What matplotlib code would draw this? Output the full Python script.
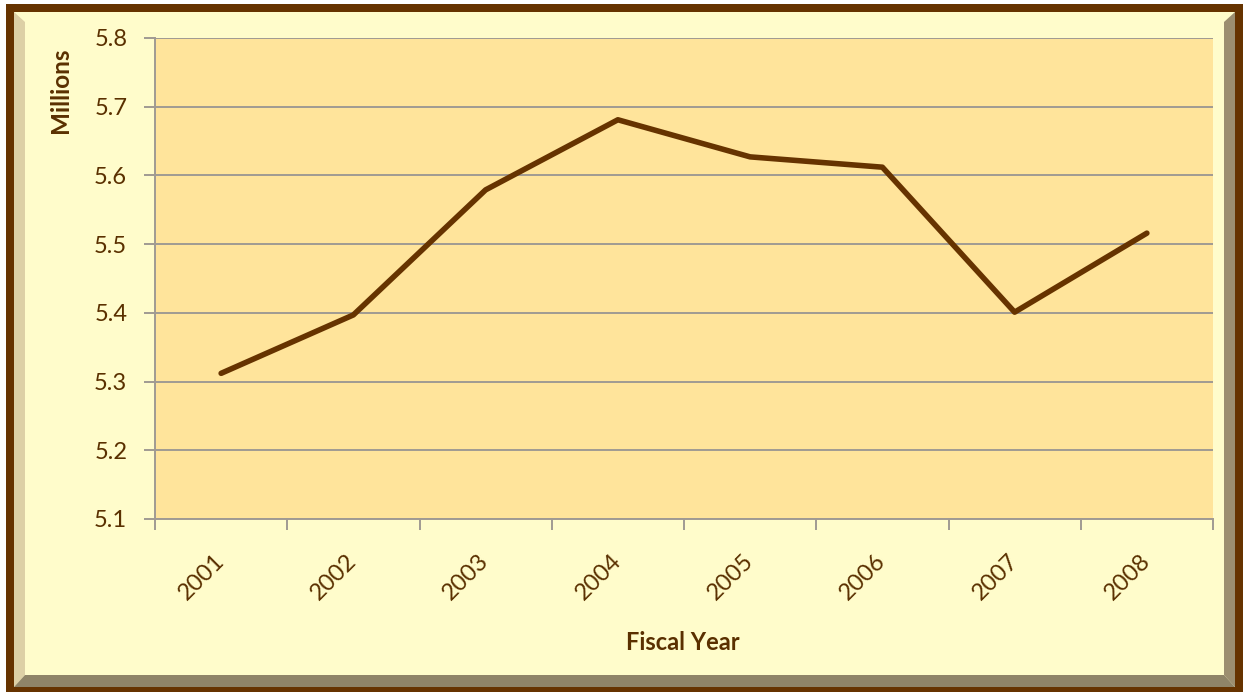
import matplotlib
matplotlib.use("Agg")
import matplotlib.pyplot as plt
from matplotlib.patches import Rectangle, Polygon

years = ["2001", "2002", "2003", "2004", "2005", "2006", "2007", "2008"]
values = [5.312, 5.397, 5.579, 5.681, 5.627, 5.612, 5.401, 5.516]
yticks = [5.1, 5.2, 5.3, 5.4, 5.5, 5.6, 5.7, 5.8]

W, H = 1243, 692
BROWN = "#663300"
TEXT = "#5A3000"
BG = "#FFFCCB"
PLOT = "#FFE49B"
TAN = "#DDD0A6"
GRAY = "#9C8E70"

plt.rcParams['font.family'] = ['Lato', 'DejaVu Sans']

fig = plt.figure(figsize=(W / 100, H / 100), dpi=100)
fig.patch.set_facecolor("white")

def px(x, y):
    return x / W, 1 - y / H

def rect(x0, y0, x1, y1, color, z=0):
    fig.patches.append(Rectangle((x0 / W, 1 - y1 / H), (x1 - x0) / W, (y1 - y0) / H,
                                 transform=fig.transFigure, facecolor=color,
                                 edgecolor='none', zorder=z))

def poly(pts, color, z=0):
    fig.patches.append(Polygon([px(x, y) for x, y in pts], closed=True,
                               transform=fig.transFigure, facecolor=color,
                               edgecolor='none', zorder=z))

# outer brown border
rect(6, 4, 1243, 692, BROWN, 0)
# inner background
rect(14, 12, 1235, 687, BG, 1)
# left tan bevel
poly([(14, 12), (25, 22), (25, 675), (14, 687)], TAN, 2)
# right gray bevel
poly([(1235, 12), (1224, 22), (1224, 675), (1235, 687)], GRAY, 2)
# bottom gray bevel
poly([(14, 687), (25, 675), (1224, 675), (1235, 687)], "#8F8468", 2)

ax = fig.add_axes([155 / W, 1 - 519 / H, (1213 - 155) / W, (519 - 38) / H])
ax.set_zorder(5)
ax.set_facecolor(PLOT)

x = list(range(len(years)))
ax.plot(x, values, color=BROWN, linewidth=4.0, solid_capstyle='round',
        solid_joinstyle='round', zorder=3)

ax.set_xlim(-0.5, len(years) - 0.5)
ax.set_ylim(5.1, 5.8)
ax.set_yticks(yticks)
ax.set_yticklabels([f"{v:.1f}" for v in yticks])
ax.yaxis.grid(True, color="#A09A92", linewidth=1.4)
ax.set_axisbelow(True)

ax.set_xticks([i - 0.5 for i in range(len(years) + 1)], minor=False)
ax.set_xticklabels([])
ax.set_xticks(x, minor=True)
ax.set_xticklabels(years, minor=True, rotation=45, ha='right', va='center',
                   rotation_mode='anchor')
ax.tick_params(axis='x', which='major', length=8, width=1.4, color="#A09A92")
ax.tick_params(axis='x', which='minor', length=0, pad=28, labelsize=17, labelcolor=TEXT)
ax.tick_params(axis='y', length=8, width=1.4, color="#A09A92", labelsize=17,
               labelcolor=TEXT, pad=12)

for s in ['top', 'right']:
    ax.spines[s].set_visible(False)
for s in ['left', 'bottom']:
    ax.spines[s].set_color("#A09A92")
    ax.spines[s].set_linewidth(1.4)

fig.text(61 / W, 1 - 90 / H, "Millions", rotation=90, ha='center', va='center',
         fontsize=17.5, fontweight='bold', color=TEXT)
fig.text(683 / W, 1 - 643 / H, "Fiscal Year", ha='center', va='center',
         fontsize=17, fontweight='bold', color=TEXT)

fig.savefig("out.png", dpi=100, facecolor=fig.get_facecolor())
